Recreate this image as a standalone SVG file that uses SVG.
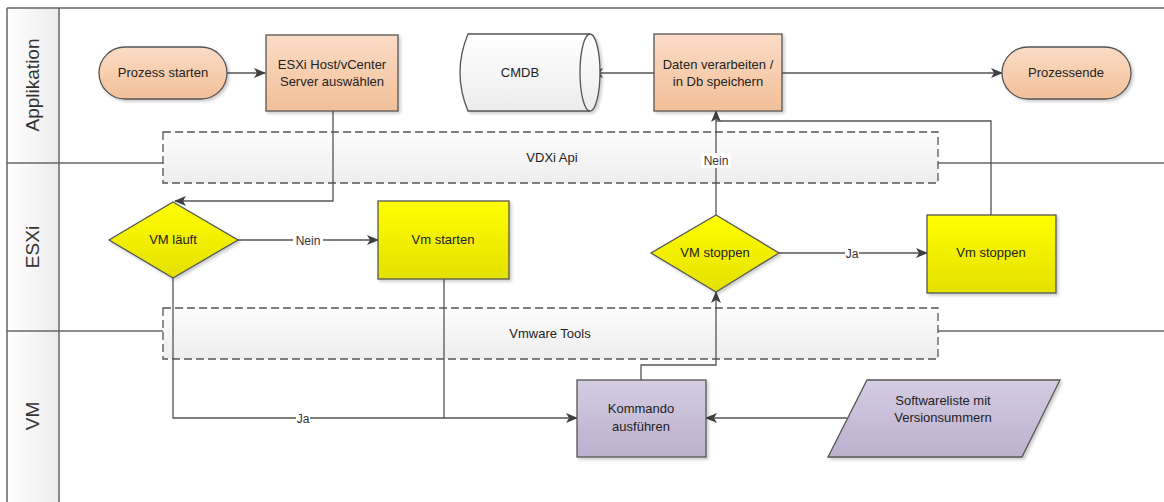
<svg xmlns="http://www.w3.org/2000/svg" width="1164" height="502" viewBox="0 0 1164 502">
<defs>
<linearGradient id="gHead" x1="0" y1="0" x2="1" y2="0"><stop offset="0" stop-color="#ffffff"/><stop offset="1" stop-color="#ececec"/></linearGradient>
<linearGradient id="gBand" x1="0" y1="0" x2="0" y2="1"><stop offset="0" stop-color="#fdfdfd"/><stop offset="1" stop-color="#ededed"/></linearGradient>
<linearGradient id="gPeach" x1="0" y1="0" x2="0" y2="1"><stop offset="0" stop-color="#fbdcc6"/><stop offset="1" stop-color="#f2bf98"/></linearGradient>
<linearGradient id="gYellow" x1="0" y1="0" x2="0" y2="1"><stop offset="0" stop-color="#ffff00"/><stop offset="1" stop-color="#e4e000"/></linearGradient>
<linearGradient id="gPurple" x1="0" y1="0" x2="0" y2="1"><stop offset="0" stop-color="#d4cce2"/><stop offset="1" stop-color="#bcb0cf"/></linearGradient>
<linearGradient id="gCyl" x1="0" y1="0" x2="0" y2="1"><stop offset="0" stop-color="#ffffff"/><stop offset="1" stop-color="#ececec"/></linearGradient>
<filter id="sh" x="-10%" y="-10%" width="130%" height="130%"><feDropShadow dx="2" dy="2" stdDeviation="1.5" flood-color="#000" flood-opacity="0.2"/></filter>
<marker id="arr" markerWidth="12" markerHeight="10" refX="11" refY="5" orient="auto" markerUnits="userSpaceOnUse"><path d="M0,0 L12,5 L0,10 L3,5 Z" fill="#404040"/></marker>
<style>
.frame{stroke:#666;stroke-width:1.5;fill:none}
.band{fill:url(#gBand);stroke:#555;stroke-width:1.3;stroke-dasharray:8,4}
.node{stroke:#555;stroke-width:1.3;filter:url(#sh)}
.peach{fill:url(#gPeach)}
.yellow{fill:url(#gYellow)}
.purple{fill:url(#gPurple)}
.t{font-family:"Liberation Sans",Arial,sans-serif;font-size:13px;fill:#222;text-anchor:middle}
.h{font-family:"Liberation Sans",Arial,sans-serif;font-size:19px;fill:#333;text-anchor:middle}
.c{stroke:#555;stroke-width:1.3;fill:none}
.lbl{font-family:"Liberation Sans",Arial,sans-serif;font-size:12px;fill:#333;text-anchor:middle}
</style>
</defs>
<rect width="1164" height="502" fill="#ffffff"/>
<g id="lanes">
<rect x="7" y="8" width="52" height="494" fill="url(#gHead)"/>
<line class="frame" x1="7" y1="8" x2="1164" y2="8"/>
<line class="frame" x1="7" y1="8" x2="7" y2="502"/>
<line class="frame" x1="59" y1="8" x2="59" y2="502"/>
<line class="frame" x1="7" y1="163" x2="1164" y2="163"/>
<line class="frame" x1="7" y1="331" x2="1164" y2="331"/>
<text class="h" transform="translate(39,85) rotate(-90)">Applikation</text>
<text class="h" transform="translate(39,247) rotate(-90)">ESXi</text>
<text class="h" transform="translate(39,416) rotate(-90)">VM</text>
</g>
<g id="band-vdxi">
<rect class="band" x="163" y="132" width="775" height="51"/>
<text class="t" x="552" y="162">VDXi Api</text>
</g>
<g id="band-vmware">
<rect class="band" x="163" y="308" width="775" height="51"/>
<text class="t" x="550" y="338">Vmware Tools</text>
</g>
<g id="connectors">
<line class="c" x1="227" y1="73" x2="265" y2="73" marker-end="url(#arr)"/>
<line class="c" x1="654" y1="73" x2="592" y2="73" marker-end="url(#arr)"/>
<line class="c" x1="782" y1="73" x2="1002" y2="73" marker-end="url(#arr)"/>
<polyline class="c" points="333,111 333,201 175,201" marker-end="url(#arr)"/>
<line class="c" x1="238" y1="240" x2="378" y2="240" marker-end="url(#arr)"/>
<line class="c" x1="716" y1="215" x2="716" y2="111" marker-end="url(#arr)"/>
<polyline class="c" points="991,215 991,121 716,121"/>
<line class="c" x1="779" y1="253" x2="927" y2="253" marker-end="url(#arr)"/>
<polyline class="c" points="173,278 173,418 577,418" marker-end="url(#arr)"/>
<polyline class="c" points="444,279 444,418"/>
<polyline class="c" points="641,380 641,365 716,365 716,292" marker-end="url(#arr)"/>
<line class="c" x1="847" y1="418" x2="706" y2="418" marker-end="url(#arr)"/>
<rect x="701" y="153" width="30" height="15" fill="#fff"/>
<text class="lbl" x="716" y="165">Nein</text>
<rect x="293" y="233" width="30" height="15" fill="#fff"/>
<text class="lbl" x="308" y="245">Nein</text>
<rect x="845" y="246" width="14" height="15" fill="#fff"/>
<text class="lbl" x="852" y="258">Ja</text>
<rect x="296" y="411" width="14" height="15" fill="#fff"/>
<text class="lbl" x="303" y="423">Ja</text>
</g>
<g id="prozess-starten">
<rect class="node peach" x="99" y="47" width="128" height="52" rx="26" ry="26"/>
<text class="t" x="163" y="77">Prozess starten</text>
</g>
<g id="esxi-host">
<rect class="node peach" x="266" y="35" width="132" height="76"/>
<text class="t" x="332" y="69">ESXi Host/vCenter</text>
<text class="t" x="332" y="86">Server auswählen</text>
</g>
<g id="cmdb">
<path class="node" fill="url(#gCyl)" d="M468,34 L590,34 A10,38.5 0 0 1 590,111 L468,111 Q452,72.5 468,34 Z"/>
<path class="c" d="M590,34 A10,38.5 0 0 0 590,111"/>
<text class="t" x="520" y="77">CMDB</text>
</g>
<g id="daten">
<rect class="node peach" x="654" y="34" width="128" height="77"/>
<text class="t" x="718" y="69">Daten verarbeiten /</text>
<text class="t" x="718" y="86">in Db speichern</text>
</g>
<g id="prozessende">
<rect class="node peach" x="1002" y="47" width="129" height="52" rx="26" ry="26"/>
<text class="t" x="1066" y="77">Prozessende</text>
</g>
<g id="vm-laeuft">
<polygon class="node yellow" points="173,202 238,240 173,278 109,240"/>
<text class="t" x="173" y="244">VM läuft</text>
</g>
<g id="vm-starten">
<rect class="node yellow" x="378" y="201" width="131" height="78"/>
<text class="t" x="443" y="244">Vm starten</text>
</g>
<g id="vm-stoppen-decision">
<polygon class="node yellow" points="716,215 779,253 716,292 651,253"/>
<text class="t" x="715" y="257">VM stoppen</text>
</g>
<g id="vm-stoppen">
<rect class="node yellow" x="927" y="215" width="129" height="78"/>
<text class="t" x="991" y="257">Vm stoppen</text>
</g>
<g id="kommando">
<rect class="node purple" x="577" y="380" width="129" height="77"/>
<text class="t" x="641" y="413">Kommando</text>
<text class="t" x="641" y="431">ausführen</text>
</g>
<g id="softwareliste">
<polygon class="node purple" points="867,380 1060,380 1022,457 828,457"/>
<text class="t" x="943" y="405">Softwareliste mit</text>
<text class="t" x="943" y="422">Versionsummern</text>
</g>
</svg>
